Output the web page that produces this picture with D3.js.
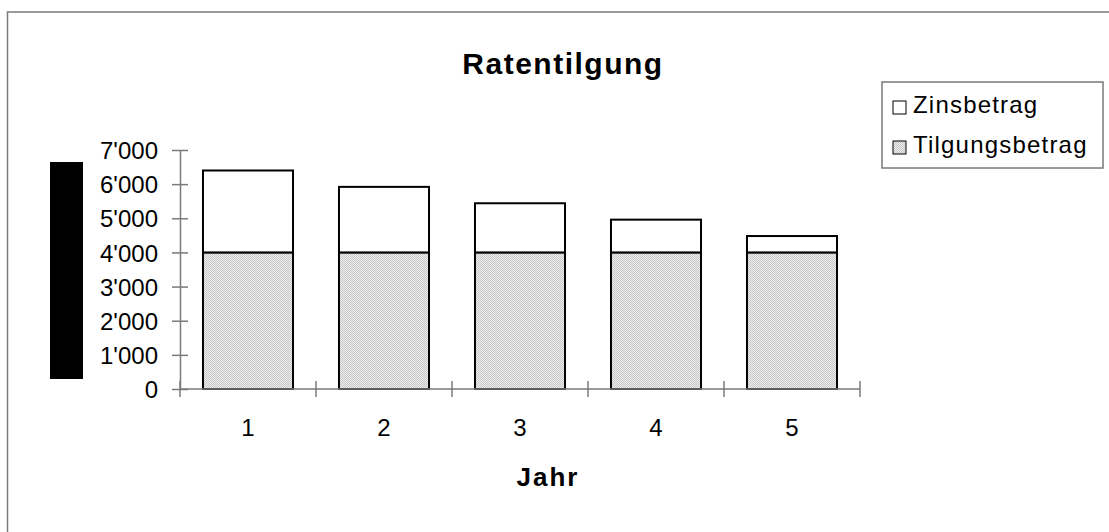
<!DOCTYPE html>
<html>
<head>
<meta charset="utf-8">
<script src="https://cdn.jsdelivr.net/npm/d3@7"></script>
<style>
  html, body { margin: 0; padding: 0; background: #fff; }
  svg { display: block; }
  text { font-family: Arial, "Liberation Sans", sans-serif; fill: #000; }
</style>
</head>
<body>
<svg id="chart" width="1109" height="532"></svg>
<script>
const years = ["1", "2", "3", "4", "5"];
const tilgungsbetrag = [4000, 4000, 4000, 4000, 4000];
const zinsbetrag = [2400, 1920, 1440, 960, 480];
const yTicks = [0, 1000, 2000, 3000, 4000, 5000, 6000, 7000];
const seriesNames = ["Zinsbetrag", "Tilgungsbetrag"];
const titleText = "Ratentilgung";
const xTitleText = "Jahr";

const svg = d3.select("#chart");

// pattern for Tilgungsbetrag
const defs = svg.append("defs");
const pat = defs.append("pattern").attr("id", "dots")
  .attr("patternUnits", "userSpaceOnUse").attr("width", 2).attr("height", 2);
pat.append("rect").attr("width", 2).attr("height", 2).attr("fill", "#ececec");
pat.append("rect").attr("width", 1).attr("height", 1).attr("fill", "#c4c4c4");
pat.append("rect").attr("x", 1).attr("y", 1).attr("width", 1).attr("height", 1).attr("fill", "#cdcdcd");

// outer frame (extends past right/bottom edges)
svg.append("rect").attr("x", 7.5).attr("y", 12).attr("width", 1200).attr("height", 600)
  .attr("fill", "none").attr("stroke", "#7a7a7a").attr("stroke-width", 1.5);

const x = d3.scaleBand().domain(years).range([180, 860]).paddingInner(0.338).paddingOuter(0.169);
const y = d3.scaleLinear().domain([0, 7000]).range([389, 150]);

// bars
const g = svg.append("g");
g.selectAll("rect.t").data(years).join("rect")
  .attr("x", d => x(d)).attr("width", x.bandwidth())
  .attr("y", (d, i) => y(tilgungsbetrag[i]))
  .attr("height", (d, i) => y(0) - y(tilgungsbetrag[i]))
  .attr("fill", "url(#dots)").attr("stroke", "#000").attr("stroke-width", 2);
g.selectAll("rect.z").data(years).join("rect")
  .attr("x", d => x(d)).attr("width", x.bandwidth())
  .attr("y", (d, i) => y(tilgungsbetrag[i] + zinsbetrag[i]))
  .attr("height", (d, i) => y(tilgungsbetrag[i]) - y(tilgungsbetrag[i] + zinsbetrag[i]))
  .attr("fill", "#fff").attr("stroke", "#000").attr("stroke-width", 2);

// y axis
const fmt = v => d3.format(",")(v).replace(/,/g, "'");
const yAxis = d3.axisLeft(y).tickValues(yTicks).tickFormat(fmt).tickSizeInner(8).tickSizeOuter(0).tickPadding(14);
const ya = svg.append("g").attr("transform", "translate(180,0)").call(yAxis);
ya.select(".domain").attr("stroke", "#7a7a7a").attr("stroke-width", 1.5);
ya.selectAll(".tick line").attr("stroke", "#7a7a7a").attr("stroke-width", 1.5).attr("x1", 8);
ya.selectAll(".tick text").attr("font-size", 24).attr("font-family", "Arial, 'Liberation Sans', sans-serif")
  .attr("x", -22).attr("dy", "0.36em");

// x axis: boundaries ticks
const xa = svg.append("g").attr("transform", `translate(0,${y(0)})`);
xa.append("line").attr("x1", 180).attr("x2", 860).attr("stroke", "#7a7a7a").attr("stroke-width", 1.5);
const bounds = years.map(d => x(d) - x.step() * x.paddingInner() / 2).concat([860]);
xa.selectAll("line.tk").data(bounds).join("line")
  .attr("x1", d => d).attr("x2", d => d).attr("y1", -8).attr("y2", 8)
  .attr("stroke", "#7a7a7a").attr("stroke-width", 1.5);
xa.selectAll("text").data(years).join("text")
  .attr("x", d => x(d) + x.bandwidth() / 2).attr("y", 47)
  .attr("text-anchor", "middle").attr("font-size", 24).text(d => d);

// black block (y-axis title area)
svg.append("rect").attr("x", 50).attr("y", 162).attr("width", 33).attr("height", 217).attr("fill", "#000");

// title
svg.append("text").attr("x", 563).attr("y", 74).attr("text-anchor", "middle")
  .attr("font-size", 30).attr("font-weight", "bold").attr("letter-spacing", 1.5).text(titleText);
svg.append("text").attr("x", 548).attr("y", 486).attr("text-anchor", "middle")
  .attr("font-size", 26).attr("font-weight", "bold").attr("letter-spacing", 2).text(xTitleText);

// legend
const lg = svg.append("g");
lg.append("rect").attr("x", 882).attr("y", 82).attr("width", 221).attr("height", 86)
  .attr("fill", "#fff").attr("stroke", "#7a7a7a").attr("stroke-width", 1.5);
const fills = ["#fff", "url(#dots)"];
const rowsY = [113, 153];
seriesNames.forEach((name, i) => {
  lg.append("rect").attr("x", 893).attr("y", rowsY[i] - 12).attr("width", 13).attr("height", 13)
    .attr("fill", fills[i]).attr("stroke", "#000").attr("stroke-width", 1);
  lg.append("text").attr("x", 913).attr("y", rowsY[i]).attr("font-size", 24).attr("letter-spacing", 1.2).text(name);
});
</script>
</body>
</html>
